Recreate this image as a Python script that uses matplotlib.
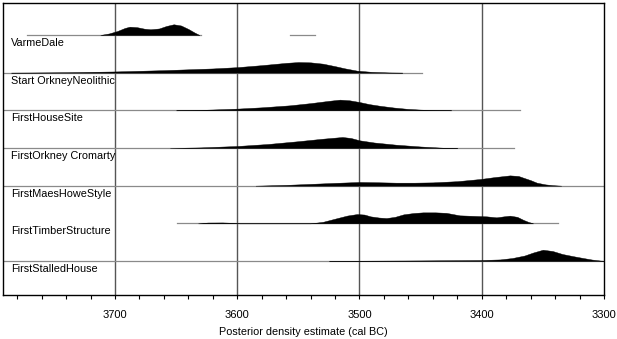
import numpy as np
import matplotlib
matplotlib.use("Agg")
import matplotlib.pyplot as plt
from matplotlib.ticker import MultipleLocator
import matplotlib.transforms as mtransforms

plt.rcParams['font.family'] = ['Liberation Sans', 'DejaVu Sans']

labels = ["VarmeDale", "Start OrkneyNeolithic", "FirstHouseSite",
          "FirstOrkney Cromarty", "FirstMaesHoweStyle", "FirstTimberStructure",
          "FirstStalledHouse"]

# density curves: (years cal BC, relative density)
varme_years = [3712, 3705, 3698, 3692, 3688, 3682, 3676, 3671, 3664, 3658, 3652, 3646, 3640, 3635, 3631]
varme_dens = [0, 1.5, 4, 7, 8.3, 7.8, 6.3, 5.7, 6.5, 9, 10.7, 9.5, 6, 2.5, 0]

start_years = [3785, 3740, 3700, 3660, 3620, 3600, 3580, 3560, 3550, 3540, 3530, 3520, 3512, 3502, 3490, 3476, 3465]
start_dens = [0, 0.4, 1.2, 2.5, 4.2, 5.5, 7.5, 9.8, 10.6, 10.3, 9, 6.5, 4.3, 2, 0.8, 0.2, 0]

house_years = [3650, 3630, 3600, 3580, 3557, 3540, 3525, 3516, 3508, 3500, 3492, 3483, 3472, 3461, 3450, 3440, 3425]
house_dens = [0, 0.4, 1.7, 3, 5, 7.2, 9.5, 10.7, 10, 8.3, 6.2, 4.5, 2.8, 1.5, 0.7, 0.3, 0]

orkney_years = [3655, 3630, 3600, 3575, 3551, 3530, 3514, 3507, 3500, 3488, 3470, 3450, 3432, 3420]
orkney_dens = [0, 0.6, 2, 4, 6.7, 9.3, 11, 10, 7.7, 5.5, 3.3, 1.5, 0.3, 0]

maes_years = [3585, 3560, 3540, 3520, 3500, 3485, 3470, 3455, 3440, 3420, 3401, 3390, 3377, 3370, 3366, 3360, 3355, 3348, 3342, 3335]
maes_dens = [0, 0.8, 1.8, 2.8, 3.7, 3.4, 3, 3, 3.3, 4.5, 6.7, 8.5, 10.3, 9.7, 8, 5.5, 3, 1.3, 0.5, 0]

timber_years = [3632, 3624, 3612, 3604, 3598, 3540, 3530, 3519, 3510, 3502, 3496, 3491, 3484, 3478, 3471, 3464, 3456, 3448,
                3438, 3429, 3418, 3407, 3396, 3388, 3382, 3377, 3371, 3366, 3362, 3358]
timber_dens = [0, 0.8, 0.9, 0.5, 0, 0, 1.5, 5, 7.8, 9.3, 8.8, 7, 5.8, 5.3, 6.5, 9, 10.3, 11,
               11, 10.5, 8, 7.5, 7, 6, 7, 7.7, 6.5, 3.5, 1.5, 0]

stalled_years = [3525, 3500, 3450, 3401, 3385, 3375, 3365, 3358, 3350, 3342, 3334, 3325, 3317, 3310, 3303, 3300]
stalled_dens = [0, 0.3, 0.6, 1, 1.6, 3, 5.5, 8.5, 11.3, 10, 7, 4.8, 3, 1.5, 0.5, 0.3]

# baseline ranges (years cal BC)
range_start = [3772, 3792, 3792, 3792, 3792, 3649, 3792]
range_end = [3630, 3449, 3369, 3374, 3300, 3338, 3300]
extra_ranges = [(0, 3557, 3536)]

major_ticks = [3700, 3600, 3500, 3400, 3300]

curves = [(varme_years, varme_dens), (start_years, start_dens), (house_years, house_dens),
          (orkney_years, orkney_dens), (maes_years, maes_dens), (timber_years, timber_dens),
          (stalled_years, stalled_dens)]

fig = plt.figure(figsize=(6.17, 3.39), dpi=100)
ax = fig.add_axes([3 / 617, 1 - 295 / 339, 601 / 617, 292 / 339])

ax.set_xlim(3791.6, 3300)
row_px = 37.7
ax.set_ylim(6 + 34 / row_px, -32 / row_px)
scale = 1 / row_px

for x in major_ticks[:-1]:
    ax.axvline(x, color="#555555", lw=1.0, zorder=1)

trans = mtransforms.blended_transform_factory(ax.transAxes, ax.transData)
for i, (lab, (yrs, dens)) in enumerate(zip(labels, curves)):
    ax.plot([range_start[i], range_end[i]], [i, i], color="#8a8a8a", lw=0.9, zorder=2)
    yrs = np.array(yrs, dtype=float)
    d = np.array(dens, dtype=float) * scale
    ax.fill_between(yrs, i, i - d, color="black", lw=0.3, zorder=3)
    ax.text(0.013, i + 3 / row_px, lab, transform=trans, ha="left", va="top",
            fontsize=7.8, zorder=4)
for (i, a, b) in extra_ranges:
    ax.plot([a, b], [i, i], color="#8a8a8a", lw=0.9, zorder=2)

ax.set_xticks(major_ticks)
ax.set_xticklabels([str(t) for t in major_ticks], fontsize=8)
ax.xaxis.set_minor_locator(MultipleLocator(20))
ax.tick_params(axis="x", which="both", direction="out", length=3, width=0.8, pad=8)
ax.set_yticks([])
for s in ax.spines.values():
    s.set_linewidth(1.0)
    s.set_color("black")
ax.set_xlabel("Posterior density estimate (cal BC)", fontsize=7.8, labelpad=5)

fig.savefig("out.png", dpi=100)
